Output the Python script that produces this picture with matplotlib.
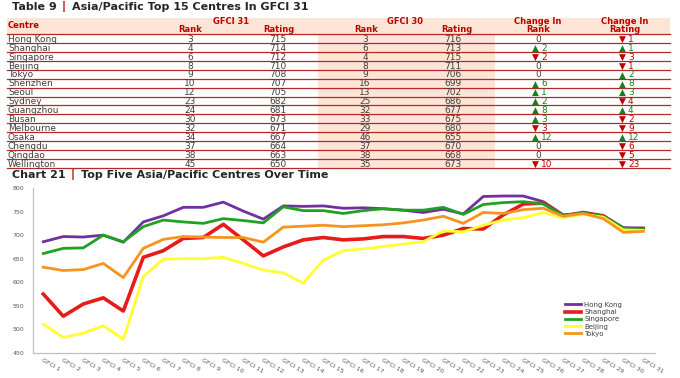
import matplotlib

matplotlib.use("Agg")
import matplotlib.pyplot as plt  # noqa: E402

W, H = 680, 378

# --- Table 9 data -----------------------------------------------------------
centres = ["Hong Kong", "Shanghai", "Singapore", "Beijing", "Tokyo", "Shenzhen", "Seoul",
           "Sydney", "Guangzhou", "Busan", "Melbourne", "Osaka", "Chengdu", "Qingdao",
           "Wellington"]
rank_31 = [3, 4, 6, 8, 9, 10, 12, 23, 24, 30, 32, 34, 37, 38, 45]
rating_31 = [715, 714, 712, 710, 708, 707, 705, 682, 681, 673, 671, 667, 664, 663, 650]
rank_30 = [3, 6, 4, 8, 9, 16, 13, 25, 32, 33, 29, 46, 37, 38, 35]
rating_30 = [716, 713, 715, 711, 706, 699, 702, 686, 677, 675, 680, 655, 670, 668, 673]

# --- Chart 21 data ----------------------------------------------------------
periods = [f"GFCI {i}" for i in range(1, 32)]
hong_kong = [686, 697, 696, 700, 685, 728, 741, 759, 759, 770, 751, 734, 762, 761, 762, 757,
             758, 756, 753, 748, 755, 745, 782, 783, 783, 771, 743, 746, 741, 716, 715]
shanghai = [575, 528, 554, 567, 539, 653, 667, 693, 695, 723, 690, 656, 675, 690, 695, 690,
            692, 697, 697, 693, 700, 714, 713, 743, 766, 768, 741, 748, 741, 713, 714]
singapore = [661, 672, 673, 700, 686, 718, 732, 728, 725, 735, 731, 726, 760, 752, 752, 746,
             752, 756, 753, 753, 759, 744, 765, 769, 771, 766, 742, 747, 740, 715, 712]
beijing = [511, 483, 492, 508, 479, 612, 649, 650, 650, 653, 640, 626, 620, 598, 647, 667,
           671, 676, 681, 686, 709, 707, 721, 732, 737, 748, 737, 744, 738, 711, 710]
tokyo = [632, 625, 627, 640, 610, 672, 691, 697, 696, 695, 695, 685, 717, 719, 721, 718,
         720, 722, 726, 732, 740, 725, 748, 746, 754, 757, 740, 746, 735, 706, 708]

series = [("Hong Kong", hong_kong, "#7030A0", 2.0),
          ("Shanghai", shanghai, "#E81B1B", 2.6),
          ("Singapore", singapore, "#21A121", 2.0),
          ("Beijing", beijing, "#FFFF33", 2.0),
          ("Tokyo", tokyo, "#F7931E", 2.0)]

DARK_RED = "#C00000"
TEXT = "#3F3F3F"
PEACH = "#FCE4D6"
UP = "#1E7B1E"
RULE = "#B42828"

fig = plt.figure(figsize=(W / 100, H / 100), dpi=100)
page = fig.add_axes([0, 0, 1, 1])
page.set_xlim(0, W)
page.set_ylim(H, 0)
page.axis("off")
renderer = fig.canvas.get_renderer()


def title_line(x, y, head, rest):
    """'Head | Rest' with a red bar, laid out left to right in pixel units."""
    for txt, color, gap in ((head, "#262626", 5), ("|", DARK_RED, 6), (rest, "#262626", 0)):
        t = page.text(x, y, txt, color=color, fontsize=8, fontweight="bold",
                      ha="left", va="center")
        x += t.get_window_extent(renderer).width + gap


title_line(12, 7, "Table 9", "Asia/Pacific Top 15 Centres In GFCI 31")

# table backgrounds and rules
top, row_h = 34.0, 8.93
bottom = top + row_h * len(centres)
page.fill_between([7, 670], 18, top, color=PEACH, lw=0)
page.fill_between([318, 495], top, bottom, color=PEACH, lw=0)
for i in range(len(centres) + 1):
    page.plot([7, 670], [top + i * row_h] * 2, color=RULE, lw=0.9)

hdr = dict(color=DARK_RED, fontsize=6, fontweight="bold", ha="center", va="center")
page.text(8, 25, "Centre", **{**hdr, "ha": "left"})
page.text(231, 21.5, "GFCI 31", **hdr)
page.text(405, 21.5, "GFCI 30", **hdr)
page.text(538, 21.5, "Change In", **hdr)
page.text(625, 21.5, "Change In", **hdr)
for cx, lab in ((190, "Rank"), (279, "Rating"), (366, "Rank"), (457, "Rating"),
                (538, "Rank"), (625, "Rating")):
    page.text(cx, 29, lab, **hdr)


def change(cx, y, d):
    if d == 0:
        page.text(cx, y, "0", color=TEXT, fontsize=6.5, ha="center", va="center")
        return
    col = UP if d > 0 else DARK_RED
    page.text(cx - 3, y, "▲" if d > 0 else "▼", color=col, fontsize=6.5,
              ha="center", va="center")
    page.text(cx + 3, y, str(abs(d)), color=col, fontsize=6.5, ha="left", va="center")


body = dict(color=TEXT, fontsize=6.5, va="center")
for i, name in enumerate(centres):
    y = top + (i + 0.5) * row_h + 0.8
    page.text(8, y, name, ha="left", **body)
    page.text(190, y, str(rank_31[i]), ha="center", **body)
    page.text(278, y, str(rating_31[i]), ha="center", **body)
    page.text(365, y, str(rank_30[i]), ha="center", **body)
    page.text(453, y, str(rating_30[i]), ha="center", **body)
    change(538, y, rank_30[i] - rank_31[i])
    change(625, y, rating_31[i] - rating_30[i])

title_line(12, 175, "Chart 21", "Top Five Asia/Pacific Centres Over Time")

# --- line chart --------------------------------------------------------------
ax = fig.add_axes([33 / W, (H - 353) / H, (655 - 33) / W, (353 - 188) / H])
x = list(range(1, len(periods) + 1))
for name, vals, color, lw in series:
    ax.plot(x, vals, color=color, lw=lw, label=name, solid_joinstyle="round")

ax.set_xlim(0.485, 31.585)
ax.set_ylim(450, 800)
ax.set_yticks(range(450, 801, 50))
ax.set_xticks(x)
ax.set_xticklabels(periods, rotation=-30, ha="left", va="top", rotation_mode="anchor")
ax.tick_params(length=0, labelsize=4.5, labelcolor="#595959")
ax.tick_params(axis="y", pad=6.5)
ax.tick_params(axis="x", pad=3)
for side in ("top", "right"):
    ax.spines[side].set_visible(False)
for side in ("left", "bottom"):
    ax.spines[side].set_color("#BFBFBF")
    ax.spines[side].set_linewidth(0.9)

leg = ax.legend(loc="upper left", bbox_to_anchor=(0.855, 0.31), frameon=False,
                fontsize=5, handlelength=2.4, handletextpad=0.4, labelspacing=0.18,
                borderpad=0, borderaxespad=0)
for t in leg.get_texts():
    t.set_color("#404040")

fig.savefig("out.png", dpi=100)
